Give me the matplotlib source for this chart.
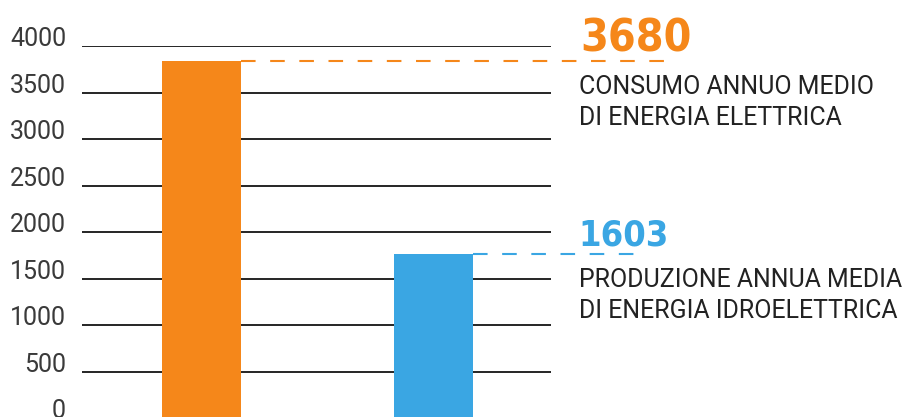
import matplotlib
matplotlib.use("Agg")
import matplotlib.pyplot as plt

# dati
categorie = ["Consumo", "Produzione"]
altezze = [3840, 1765]
valori = ["3680", "1603"]       # valori scritti accanto
etichette = ["CONSUMO ANNUO MEDIO\nDI ENERGIA ELETTRICA",
             "PRODUZIONE ANNUA MEDIA\nDI ENERGIA IDROELETTRICA"]
colori = ["#F5871A", "#3AA6E3"]
yticks = [0, 500, 1000, 1500, 2000, 2500, 3000, 3500, 4000]

W, H = 920, 417
fig = plt.figure(figsize=(W / 100, H / 100), dpi=100)
ax = fig.add_axes([82 / W, -1.5 / H, 469 / W, 372.5 / H])

x = range(len(categorie))
ax.bar(x, altezze, width=0.34, color=colori, zorder=2)
ax.set_xlim(-0.512, 1.505)
ax.set_ylim(0, 4000)

# griglia
ax.set_yticks(yticks)
ax.grid(axis="y", color="black", linewidth=1.2, zorder=1)
ax.tick_params(axis="y", length=0, pad=11.5, labelsize=18, labelcolor="#3a3a3a")
for t in ax.get_yticklabels():
    t.set_va("baseline")
    t.set_fontfamily("Roboto")
    t.set_fontweight("normal")
ax.set_xticks([])
for s in ax.spines.values():
    s.set_visible(False)

# linee tratteggiate e testi
fine_linea = [672, 635]
for i, h in enumerate(altezze):
    x0 = i + 0.17
    x1 = ax.transData.inverted().transform(
        ax.transAxes.transform((0, 0)) + (fine_linea[i] - 82, 0))[0]
    ax.plot([x0, x1], [h, h], color=colori[i], linewidth=1.5,
            dashes=(7, 7), dash_capstyle="butt", clip_on=False, zorder=3)

px = lambda a, b: (a / W, 1 - b / H)
num_font = dict(fontweight="bold", fontstretch="condensed",
                family=["DejaVu Sans", "Roboto"], va="baseline")
fig.text(*px(580, 51), valori[0], color=colori[0], fontsize=32, **num_font)
fig.text(*px(578, 245), valori[1], color=colori[1], fontsize=26, **num_font)
for b, lab in zip([94, 287], etichette):
    r1, r2 = lab.split("\n")
    fig.text(*px(579, b), r1, color="#222222", fontsize=17.9,
             family="Roboto", va="baseline")
    fig.text(*px(579, b + 31), r2, color="#222222", fontsize=17.9,
             family="Roboto", va="baseline")

fig.savefig("out.png", dpi=100)
